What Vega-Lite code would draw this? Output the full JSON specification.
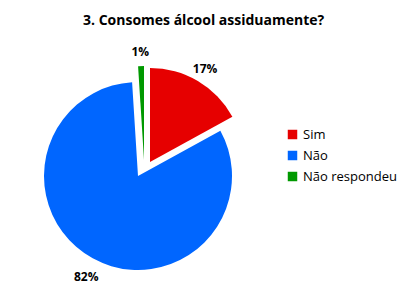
{
  "$schema": "https://vega.github.io/schema/vega-lite/v6.json",
  "width": 270,
  "height": 220,
  "padding": {"left": 5, "right": 5, "top": 14, "bottom": 5},
  "background": "white",
  "title": {
    "text": "3.  Consomes álcool assiduamente?",
    "font": "Open Sans",
    "fontSize": 14,
    "fontWeight": "bold",
    "color": "#000000",
    "anchor": "start",
    "dx": 78,
    "offset": 18
  },
  "data": {
    "values": [
      {"categoria": "Sim", "valor": 17, "ordem": 1},
      {"categoria": "Não", "valor": 82, "ordem": 2},
      {"categoria": "Não respondeu", "valor": 1, "ordem": 3}
    ]
  },
  "transform": [
    {"stack": "valor", "groupby": [], "sort": [{"field": "ordem", "order": "ascending"}], "as": ["v0", "v1"]},
    {"calculate": "datum.valor + '%'", "as": "rotulo"}
  ],
  "encoding": {
    "color": {
      "field": "categoria",
      "type": "nominal",
      "scale": {"domain": ["Sim", "Não", "Não respondeu"], "range": ["#E60000", "#0066FF", "#009900"]},
      "legend": {
        "title": null,
        "orient": "none",
        "legendX": 281,
        "legendY": 68,
        "symbolType": "square",
        "symbolSize": 90,
        "symbolStrokeWidth": 0,
        "labelFont": "Open Sans",
        "labelFontSize": 13,
        "labelColor": "#000000",
        "rowPadding": 7
      }
    }
  },
  "layer": [
    {
      "transform": [{"filter": "datum.categoria == 'Não'"}],
      "mark": {"type": "arc", "radius": 94, "xOffset": -2, "yOffset": 6},
      "encoding": {
        "theta": {"field": "v0", "type": "quantitative", "scale": {"domain": [0, 100]}},
        "theta2": {"field": "v1"}
      }
    },
    {
      "transform": [{"filter": "datum.categoria == 'Sim'"}],
      "mark": {"type": "arc", "radius": 94, "xOffset": 10, "yOffset": -8},
      "encoding": {
        "theta": {"field": "v0", "type": "quantitative", "scale": {"domain": [0, 100]}},
        "theta2": {"field": "v1"}
      }
    },
    {
      "transform": [{"filter": "datum.categoria == 'Não respondeu'"}],
      "mark": {"type": "arc", "radius": 94, "xOffset": 4, "yOffset": -10},
      "encoding": {
        "theta": {"field": "v0", "type": "quantitative", "scale": {"domain": [0, 100]}},
        "theta2": {"field": "v1"}
      }
    },
    {
      "mark": {"type": "text", "radius": 120, "font": "Open Sans", "fontSize": 12, "fontWeight": "bold", "color": "#000000", "yOffset": 2, "xOffset": 4},
      "encoding": {
        "theta": {"field": "valor", "type": "quantitative", "stack": true, "scale": {"domain": [0, 100]}},
        "order": {"field": "ordem"},
        "text": {"field": "rotulo"},
        "color": {"value": "#000000"}
      }
    }
  ],
  "config": {"view": {"stroke": null}}
}
